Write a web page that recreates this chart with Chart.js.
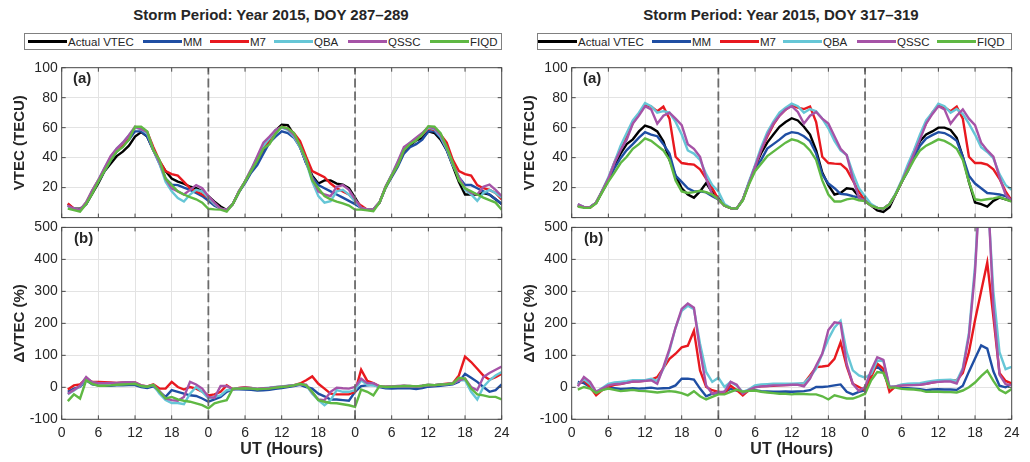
<!DOCTYPE html>
<html><head><meta charset="utf-8">
<script src="https://cdn.jsdelivr.net/npm/chart.js@4.4.1/dist/chart.umd.min.js"></script>
<style>
html,body{margin:0;padding:0;background:#fff;}
body{width:1030px;height:462px;position:relative;overflow:hidden;font-family:"Liberation Sans",Arial,Helvetica,sans-serif;}
.title{position:absolute;top:6px;line-height:18px;font-weight:bold;font-size:15px;color:#262626;white-space:nowrap;transform:translateX(-50%);}
.legend{position:absolute;top:33px;height:15px;border:1px solid #808080;background:#fff;box-sizing:content-box;}
.li{position:absolute;top:0;height:15px;display:flex;align-items:center;font-size:11.5px;color:#262626;white-space:nowrap;}
.sw{display:inline-block;width:39px;height:2.5px;margin-right:1px;}
.plabel{position:absolute;font-weight:bold;font-size:15px;line-height:18px;color:#262626;z-index:5;}
canvas{position:absolute;}
</style></head><body>
<script>
// ---------------- DATA ----------------
const HOURS = [1,2,3,4,5,6,7,8,9,10,11,12,13,14,15,16,17,18,19,20,21,22,23,24,
 25,26,27,28,29,30,31,32,33,34,35,36,37,38,39,40,41,42,43,44,45,46,47,48,
 49,50,51,52,53,54,55,56,57,58,59,60,61,62,63,64,65,66,67,68,69,70,71,72];
const X_TICK_LABELS = ['0','6','12','18','0','6','12','18','0','6','12','18','24'];
const SERIES_NAMES = ['Actual VTEC','MM','M7','QBA','QSSC','FIQD'];
const TITLES = ['Storm Period: Year 2015, DOY 287\u2013289','Storm Period: Year 2015, DOY 317\u2013319'];

// Left column, panel (a): VTEC (TECU)
const L_ACT = [9,6,6,9,16,23,31,36,41,44,48,54,57,54,45,37.5,31,26,24,22.7,20.6,19.6,17.5,14.3,
 10.7,7.4,5,9,17,24,31,38,45,53,58,62,61.7,55.4,47,36.4,28,22.7,24.8,24.8,22.7,22,19.6,13.3,
 6.5,5.3,5.5,10,20,28,35,44,48,51.5,53,57.5,56.4,52,45,34.3,23.8,15.4,15.4,15.4,16.4,15.4,12.2,9];
const L_MM = [8,6,5,9,17,24,31,38,44,48,52,57.5,57.5,54,45,36,26,22,21.7,20,18.5,16.4,14.3,11.2,
 8,6,5,9,17,23,30,35,42.7,50,54,57.5,56.4,53.3,47,36.4,27,21.7,19.6,17.5,15.4,13.3,11.2,9,
 6.5,5.3,5.5,10,20,27,34,42.7,47,49,52,57.5,57.5,53.3,45,35,27,21.7,21.7,19.6,17.5,15.4,12.2,9];
const L_M7 = [9.5,6,5,10,18,25,32,39,45,49,54,60,59.6,57,47,38,31,29,28,23.8,19.6,17.5,15.4,13.3,
 9,6,5,9,17.5,24,32,38.5,46,52,58,60.6,59.6,56.4,51,40.6,31,29,27,22.7,19.6,17.5,15.4,11.2,
 8,5.3,5.5,10,20.6,28,35.4,45,49.5,52.5,55.5,59.6,58.5,55.4,50,38.5,31,29,28,21.7,19.6,18.5,16.4,12.2];
const L_QBA = [7,6,5,10,18,25,33,40,46,50,55,60,59,56,45,36,24,17.5,13,10.7,15.4,18.5,17.5,13.3,
 9,6,5,9,17.5,24,32,40,48,53,58.5,60,58.5,54,47,37,24,14.3,10,11,17.5,18.5,15.4,10.7,
 6.5,5.3,5.5,10,20.6,28.5,37,46,50,53,56,60,59,54,46,35,27,18.5,15.4,11.2,16.4,18.5,16.4,13.3];
const L_QSSC = [8,6,5,10,18,25,33,41,46,50,55,60.6,59,57,45,37,26,19.6,17.5,15.4,18.5,21.7,19.6,14.3,
 10,6,5,9,17.5,24,32,41,50,54,58.5,60.5,59,55,48,38,26,17.5,15.4,14.3,20.6,21.7,18.5,12.2,
 6.5,5.3,5.5,10,20.6,28.5,37.5,47,50,53.3,56.4,60.6,59.5,55,47,36,27,19.6,16.4,15.4,20.6,22,18.5,14.3];
const L_FIQD = [6,5,4,9,16,24,31,38,44,47,52,60.6,60.6,57.5,45,38.5,26,21.7,17.5,15.4,13.7,12.2,10,5.9,
 5.5,5.3,4,9,17,24,31,38,46,49,56,60.6,59.6,56.4,48,38.5,24.8,19.6,14.3,12.2,10.7,9.5,8,5.3,
 5.3,4.8,4.2,10,20,28,35,45,49,51.6,55.4,61,60.6,56.4,47,36.4,24.8,19.6,17.5,15.4,13.3,11.6,10,5.3];

// Left column, panel (b): dVTEC (%)
const LD_MM = [-14,-4,1,22,9,6,5,5,6,6,7,7,1,-2,3,-14,-30,-9,-14,-20,-25,-27,-35,-45,
 -38,-30,-14,-6,-6,-7,-8,-10,-9,-8,-5,-2,1,4,8,1,-4,-20,-28,-38,-38,-40,-42,-14,
 4,6,8,1,-3,-4,-3,-2,-3,-5,-2,2,3,5,7,9,17,42,30,17,1,-14,-9,9];
const LD_M7 = [-7,6,9,27,17,17,16,15,14,15,16,15,6,3,9,-4,-4,17,1,-7,1,-4,-14,-25,
 -22,-14,6,-6,-2,0,-2,-5,-3,-2,0,2,4,7,12,22,34,11,-4,-20,-22,-22,-22,-14,
 55,20,13,3,2,3,3,4,3,2,4,7,7,9,11,13,37,96,79,58,37,24,32,42];
const LD_QBA = [-22,-10,3,30,15,13,13,13,13,14,15,14,5,2,7,-20,-40,-49,-49,-53,-20,1,-14,-35,
 -30,-25,-9,-6,-3,-2,-2,-5,-3,-1,1,3,5,7,10,6,-20,-40,-56,-40,-9,-14,-14,-9,
 22,8,6,2,1,2,3,4,3,2,4,7,7,9,10,12,22,22,-14,-38,1,22,37,48];
const LD_QSSC = [-20,-8,5,32,15,13,13,14,14,15,16,15,6,3,7,-12,-35,-40,-42,-30,17,9,-4,-30,
 -33,4,4,-6,-3,-1,-3,-5,-3,-2,0,2,4,6,10,8,-16,-38,-40,-14,-1,-3,-4,1,
 27,13,13,3,2,3,4,5,4,2,5,8,7,9,10,12,22,27,1,-9,32,45,55,65];
const LD_FIQD = [-43,-22,-35,22,11,5,5,6,8,9,10,11,4,2,8,-14,-35,-30,-38,-42,-45,-50,-56,-66,
 -50,-45,-40,-4,-4,-3,-4,-6,-5,-4,-1,1,3,6,11,6,-14,-40,-45,-49,-50,-53,-56,-61,
 -7,-14,-25,4,1,2,3,4,4,3,5,8,7,9,10,12,30,27,-4,-22,-25,-30,-30,-38];

// Right column, panel (a): VTEC (TECU)
const R_ACT = [8,7,7,10,17.5,25,35,42.7,49,52.2,57.5,61.3,60,57.5,51,38.5,28,19.6,15.4,13.3,17.5,23,17,13,
 8,6.3,6,12,23,34,43,50,55.4,60.6,63.8,66.3,64.8,60.6,55.4,44.8,30,21.7,15.4,16.4,19.6,19,14,11,
 8,4.8,3.8,7,15.4,23.8,32,42.7,51,55.4,57.5,60,60,58.5,53.3,40.6,23.8,10.1,9,7.4,11.2,13.3,12.2,11];
const R_MM = [8,7,7,10,17.5,25,33,39.6,45,49,53.3,57,55.4,54.3,49,42.7,28,23.8,19.6,17.5,17.5,16.8,14.3,12.2,
 8,6.3,6,12,23,33,38.5,46,49,52,55.4,57,56.4,54.3,51,42.7,29,22.7,19.6,15.8,15.4,14.3,13.3,11.2,
 8,6.5,5.9,9,15.4,23.8,31,40.6,48,52.8,55,57,56.4,54.3,51.2,40.6,28,22.7,19.6,16.4,16,15.4,14.3,12.2];
const R_M7 = [8,7,6.5,10,17.5,26,37,46,54,63,69,75.4,74,71,74,66,40.6,36.4,35.8,35.4,32.2,26,19.6,12.2,
 8,6.3,6,12,23,34,45,54,62,68,72,75,73.3,72.4,74,63.8,40.6,36.4,36,35.8,32.2,24.8,17.5,11.2,
 8,6.5,5.9,9,15.4,24,33,44,54,63,70,75,73.5,71,74,66,40.6,36.4,36.4,35.4,32.2,25.9,17.5,11.2];
const R_QBA = [9,7,7,10,18,27,37,48,56.4,64.8,70,76.4,74.3,70,71,70,63.8,55.4,44.8,42.7,38.5,29,21.7,17.5,
 9,6.5,6,12,24,35,47,57,64,70,73.3,76,74.3,70,72.4,71,66,59.6,51.2,44.8,41.7,30,19.6,14.3,
 9,6.5,5.9,9,16,25,35.4,44.8,55.4,64.8,70,76,74.3,70,72.4,69,62.7,55.4,47,43.8,39.6,29,21.7,18.5];
const R_QSSC = [9,7,7,10,18,26,36.4,45,52,62.7,68,74.3,72.2,62.7,68,70,66,61.7,49,45.9,40.6,26,15.4,12.2,
 8,6.3,6,12,23,34,45,55,62.7,68,72.2,74.3,70.5,62.7,68,70.5,66,62.7,54.3,45.9,41.7,26,13.3,11.2,
 8,6.5,5.9,9,15.4,24,33,42.7,52.2,62.7,69,74.3,72.2,62.7,68,72.2,66,61.7,50,44.8,40.6,27,15.4,11.2];
const R_FIQD = [7.4,6.5,6.5,9.5,17,24,30,36.4,40.6,45.9,49,52.8,51.2,48,44.8,38.5,24.8,17.5,16.4,17,17.9,17,15.4,12.2,
 8,6.3,6,11.5,22,31,36,41,44,47,50,52.2,51.2,49,44.8,38.5,24.8,15.4,10.7,10.7,12.2,12.8,11.6,11,
 8,6.5,6,9,15.4,23.8,31,38.5,44.8,48,50,52.2,51.2,49,45.9,38.5,23.8,12.2,11.6,12.2,12.8,13.7,12.2,10.7];

// Right column, panel (b): dVTEC (%)
const RD_MM = [17,13,1,-18,-4,-1,-3,-5,-4,-3,-4,-3,-1,-4,-3,-2,6,27,27,24,-4,-28,-20,-18,
 -14,-5,-10,-14,-11,-9,-12,-13,-14,-14,-13,-14,-13,-12,-9,1,1,3,6,9,-14,-22,-14,-9,
 48,65,48,0,2,-2,-3,-4,-6,-9,-7,-6,-7,-7,-8,5,49,90,131,121,50,5,0,10];
const RD_M7 = [9,22,1,-25,-9,1,8,10,15,18,19,20,24,32,60,89,105,125,130,177,53,1,-9,-14,
 -18,5,-9,-25,-9,1,3,4,5,6,7,8,10,12,37,63,65,68,89,141,65,11,1,-9,
 32,74,58,-14,3,6,7,8,9,11,15,18,20,21,22,45,110,210,300,390,220,45,20,12];
const RD_QBA = [9,25,10,-14,-2,11,15,17,19,22,22,22,27,20,58,115,187,239,255,244,136,48,17,30,
 1,17,5,-14,-6,6,9,10,11,11,11,11,12,13,32,58,105,151,187,208,110,53,37,30,
 42,84,82,1,3,9,11,12,13,17,20,22,23,24,20,60,170,380,700,620,300,110,57,64];
const RD_QSSC = [3,32,17,-14,-4,6,10,11,14,18,18,20,22,11,63,120,187,245,262,249,115,6,-20,-15,
 -14,17,8,-20,-8,0,3,4,6,6,7,8,8,3,27,68,105,179,203,200,73,11,-11,1,
 53,94,86,1,3,6,7,7,8,11,15,17,18,18,12,55,160,360,700,650,250,40,10,7];
const RD_FIQD = [-7,1,-4,-18,-9,-4,-8,-12,-10,-8,-11,-12,-14,-16,-14,-12,-14,-18,-25,-12,-28,-38,-30,-22,
 -22,-14,-7,-14,-11,-10,-14,-16,-18,-20,-20,-22,-20,-21,-22,-22,-28,-38,-25,-30,-35,-35,-28,-20,
 22,48,45,-1,-1,-5,-6,-7,-9,-14,-14,-14,-15,-15,-16,-10,0,15,35,52,20,-8,-18,-5];

const STORM_DAY_BOUNDS = [24, 48];

// ---------------- STYLE ----------------
const COLORS = ['#000000','#1f4ea3','#e8191f','#66c6d6','#a653a7','#5fb843'];
const FONT = '"Liberation Sans", Arial, Helvetica, sans-serif';
const INK = '#262626';
const GRID = '#e3e3e3';

function series(values, i){
  return {label: SERIES_NAMES[i], data: HOURS.map((h,k)=>({x:h, y:values[k]})),
    borderColor: COLORS[i], backgroundColor: COLORS[i], borderWidth: 2.4,
    pointRadius: 0, tension: 0, fill: false, order: 10 - i};
}

const framePlugin = {
  id: 'frame',
  afterDatasetsDraw(chart){
    const {ctx, chartArea: a, scales: {x, y}} = chart;
    ctx.save();
    ctx.strokeStyle = '#4a4a4a'; ctx.lineWidth = 1;
    ctx.strokeRect(a.left, a.top, a.right - a.left, a.bottom - a.top);
    ctx.beginPath();
    x.ticks.forEach(t => { const p = x.getPixelForValue(t.value);
      ctx.moveTo(p, a.bottom); ctx.lineTo(p, a.bottom - 4);
      ctx.moveTo(p, a.top); ctx.lineTo(p, a.top + 4); });
    y.ticks.forEach(t => { const p = y.getPixelForValue(t.value);
      ctx.moveTo(a.left, p); ctx.lineTo(a.left + 4, p);
      ctx.moveTo(a.right, p); ctx.lineTo(a.right - 4, p); });
    ctx.stroke();
    ctx.restore();
  }
};

function panel(cfg){
  const c = document.createElement('canvas');
  c.width = cfg.w; c.height = cfg.h;
  c.style.left = cfg.left + 'px'; c.style.top = cfg.top + 'px';
  c.style.width = cfg.w + 'px'; c.style.height = cfg.h + 'px';
  document.body.appendChild(c);
  const ds = cfg.sets.map(([vals, i]) => series(vals, i));
  STORM_DAY_BOUNDS.forEach(v => ds.push({label: '', data: [{x: v, y: cfg.yMin}, {x: v, y: cfg.yMax}],
    borderColor: '#6b6b6b', borderWidth: 1.8, borderDash: [9, 4], pointRadius: 0, order: 0}));
  new Chart(c, {
    type: 'line',
    data: {datasets: ds},
    options: {
      responsive: false, animation: false, devicePixelRatio: 1,
      layout: {padding: {top: cfg.pt, bottom: cfg.pb, left: 0, right: cfg.pr}},
      plugins: {legend: {display: false}, tooltip: {enabled: false}, title: {display: false}},
      scales: {
        x: {type: 'linear', min: 0, max: 72,
          ticks: {stepSize: 6, display: cfg.showX, autoSkip: false, maxRotation: 0, padding: 5,
            color: INK, font: {family: FONT, size: 14},
            callback: (v) => X_TICK_LABELS[Math.round(v / 6)]},
          grid: {color: GRID, drawTicks: false, lineWidth: 1},
          border: {display: false},
          title: {display: cfg.showX, text: 'UT (Hours)', color: INK,
            font: {family: FONT, size: 16, weight: 'bold'}, padding: {top: 0, bottom: 3}},
          afterFit: (s) => { s.height = cfg.xh; }
        },
        y: {min: cfg.yMin, max: cfg.yMax,
          ticks: {stepSize: cfg.yStep, padding: 4, color: INK, font: {family: FONT, size: 14},
            callback: (v) => (cfg.hideZero && v === 0) ? '' : String(v)},
          grid: {color: GRID, drawTicks: false, lineWidth: 1},
          border: {display: false},
          title: {display: true, text: cfg.yTitle, color: INK,
            font: {family: FONT, size: 15, weight: 'bold'}, padding: {top: 11, bottom: 0}},
          afterFit: (s) => { s.width = 61.7; }
        }
      }
    },
    plugins: [framePlugin]
  });
}

function addText(cls, text, left, top){
  const d = document.createElement('div'); d.className = cls; d.textContent = text;
  d.style.left = left + 'px'; d.style.top = top + 'px'; document.body.appendChild(d); return d;
}

function legend(boxLeft, boxWidth, offsets){
  const box = document.createElement('div'); box.className = 'legend';
  box.style.left = boxLeft + 'px'; box.style.width = (boxWidth - 2) + 'px';
  SERIES_NAMES.forEach((n, i) => {
    const it = document.createElement('div'); it.className = 'li'; it.style.left = offsets[i] + 'px';
    const sw = document.createElement('span'); sw.className = 'sw'; sw.style.background = COLORS[i];
    const tx = document.createElement('span'); tx.textContent = n;
    it.appendChild(sw); it.appendChild(tx); box.appendChild(it);
  });
  document.body.appendChild(box);
}

// Titles & legends
addText('title', TITLES[0], 271, 6);
addText('title', TITLES[1], 781, 6);
legend(24, 478, [3, 118, 185, 249, 323, 405]);
legend(537, 475, [0, 114, 182, 245, 319, 399]);

// Panels
const COLS = [
  {left: 0, w: 515, pr: 13.3,
   a: [[L_ACT,0],[L_MM,1],[L_M7,2],[L_QBA,3],[L_QSSC,4],[L_FIQD,5]],
   b: [[LD_MM,1],[LD_M7,2],[LD_QBA,3],[LD_QSSC,4],[LD_FIQD,5]]},
  {left: 510, w: 520, pr: 18.3,
   a: [[R_ACT,0],[R_MM,1],[R_M7,2],[R_QBA,3],[R_QSSC,4],[R_FIQD,5]],
   b: [[RD_MM,1],[RD_M7,2],[RD_QBA,3],[RD_QSSC,4],[RD_FIQD,5]]}
];
COLS.forEach(col => {
  panel({left: col.left, top: 50, w: col.w, h: 180, pt: 17.7, pb: 4, pr: col.pr, xh: 0,
    yMin: 0, yMax: 100, yStep: 20, yTitle: 'VTEC (TECU)', showX: false, hideZero: true, sets: col.a});
  panel({left: col.left, top: 215, w: col.w, h: 247, pt: 11, pb: 0, pr: col.pr, xh: 42.7,
    yMin: -100, yMax: 500, yStep: 100, yTitle: '\u0394VTEC (%)', showX: true, hideZero: false, sets: col.b});
  addText('plabel', '(a)', col.left + 73, 68.5);
  addText('plabel', '(b)', col.left + 74, 228.5);
});
</script>
</body></html>
